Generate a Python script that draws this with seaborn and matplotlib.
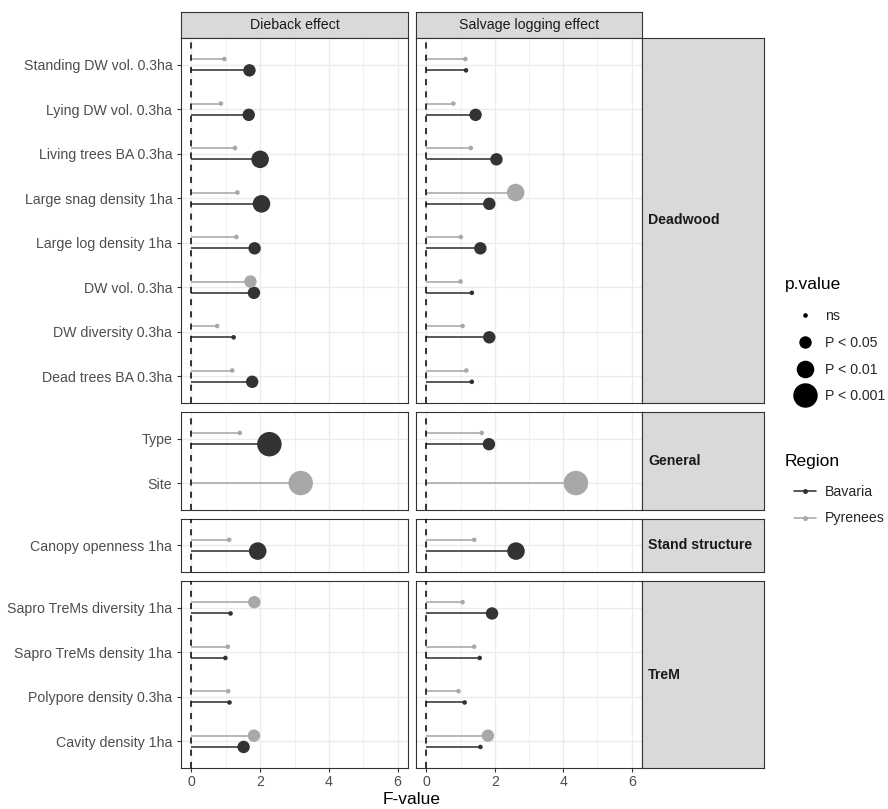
import numpy as np
import pandas as pd
import matplotlib
matplotlib.use("Agg")
import matplotlib.pyplot as plt
import seaborn as sns
from matplotlib.lines import Line2D

sns.set_theme(style="white")
plt.rcParams['font.family'] = ['Liberation Sans', 'DejaVu Sans']

# data (top to bottom)
variables = ["Standing DW vol. 0.3ha", "Lying DW vol. 0.3ha", "Living trees BA 0.3ha",
             "Large snag density 1ha", "Large log density 1ha", "DW vol. 0.3ha",
             "DW diversity 0.3ha", "Dead trees BA 0.3ha", "Type", "Site",
             "Canopy openness 1ha", "Sapro TreMs diversity 1ha", "Sapro TreMs density 1ha",
             "Polypore density 0.3ha", "Cavity density 1ha"]
groups = ["Deadwood"] * 8 + ["General"] * 2 + ["Stand structure"] + ["TreM"] * 4
group_order = ["Deadwood", "General", "Stand structure", "TreM"]
effects = ["Dieback effect", "Salvage logging effect"]

dieback_bavaria = [1.69, 1.67, 2.00, 2.04, 1.84, 1.82, 1.23, 1.77, 2.27, None, 1.93, 1.14, 0.99, 1.11, 1.52]
dieback_bavaria_p = ["P < 0.05", "P < 0.05", "P < 0.01", "P < 0.01", "P < 0.05", "P < 0.05", "ns",
                     "P < 0.05", "P < 0.001", None, "P < 0.01", "ns", "ns", "ns", "P < 0.05"]
dieback_pyrenees = [0.96, 0.86, 1.27, 1.34, 1.31, 1.72, 0.75, 1.19, 1.41, 3.18, 1.10, 1.83, 1.06, 1.07, 1.82]
dieback_pyrenees_p = ["ns", "ns", "ns", "ns", "ns", "P < 0.05", "ns", "ns", "ns", "P < 0.001",
                      "ns", "P < 0.05", "ns", "ns", "P < 0.05"]
salvage_bavaria = [1.16, 1.44, 2.05, 1.84, 1.58, 1.33, 1.84, 1.33, 1.83, None, 2.62, 1.92, 1.56, 1.12, 1.58]
salvage_bavaria_p = ["ns", "P < 0.05", "P < 0.05", "P < 0.05", "P < 0.05", "ns", "P < 0.05", "ns",
                     "P < 0.05", None, "P < 0.01", "P < 0.05", "ns", "ns", "ns"]
salvage_pyrenees = [1.14, 0.79, 1.30, 2.61, 1.01, 1.00, 1.06, 1.17, 1.62, 4.37, 1.40, 1.06, 1.40, 0.94, 1.80]
salvage_pyrenees_p = ["ns", "ns", "ns", "P < 0.01", "ns", "ns", "ns", "ns", "ns", "P < 0.001",
                      "ns", "ns", "ns", "ns", "P < 0.05"]

p_order = ["ns", "P < 0.05", "P < 0.01", "P < 0.001"]
region_order = ["Bavaria", "Pyrenees"]
palette = {"Bavaria": "#333333", "Pyrenees": "#A8A8A8"}
size_map = {"ns": 11, "P < 0.05": 80, "P < 0.01": 160, "P < 0.001": 310}

rows = []
series = [("Dieback effect", "Bavaria", dieback_bavaria, dieback_bavaria_p),
          ("Dieback effect", "Pyrenees", dieback_pyrenees, dieback_pyrenees_p),
          ("Salvage logging effect", "Bavaria", salvage_bavaria, salvage_bavaria_p),
          ("Salvage logging effect", "Pyrenees", salvage_pyrenees, salvage_pyrenees_p)]
for effect, region, vals, ps in series:
    for i, var in enumerate(variables):
        if vals[i] is None:
            continue
        rows.append(dict(effect=effect, region=region, group=groups[i], variable=var,
                         F=vals[i], p=ps[i]))
df = pd.DataFrame(rows)

# position inside each facet row + dodge
pos = {}
for g in group_order:
    vs = [v for v, gg in zip(variables, groups) if gg == g]
    for j, v in enumerate(vs):
        pos[v] = j
n_per = df.groupby(["effect", "variable"])["region"].transform("count")
offset = np.where(df["region"] == "Pyrenees", -0.127, 0.127)
df["y"] = df["variable"].map(pos) + np.where(n_per > 1, offset, 0.0)

W, H = 888, 809
fig = plt.figure(figsize=(W / 100, H / 100), dpi=100)


def box(x0, y0, x1, y1):
    return [x0 / W, 1 - y1 / H, (x1 - x0) / W, (y1 - y0) / H]


col_x = [(181, 408), (416, 642)]
strip_r = (642, 764)
top0, bottom1, gap = 38, 768, 9
units = {g: groups.count(g) + 0.2 for g in group_order}
per_unit = (bottom1 - top0 - gap * (len(group_order) - 1)) / sum(units.values())
row_y = {}
cur = top0
for g in group_order:
    h = units[g] * per_unit
    row_y[g] = (cur, cur + h)
    cur += h + gap

fs = 10.2
edge = "#333333"
for c, effect in enumerate(effects):
    x0, x1 = col_x[c]
    # top strip
    sax = fig.add_axes(box(x0, 12, x1, top0))
    sax.set_facecolor("#D9D9D9")
    sax.set_xticks([]); sax.set_yticks([])
    for s in sax.spines.values():
        s.set_color(edge); s.set_linewidth(0.8)
    sax.text(0.5, 0.5, effect, ha="center", va="center", fontsize=fs, color="#1A1A1A",
             transform=sax.transAxes)
    for r, g in enumerate(group_order):
        y0, y1 = row_y[g]
        ax = fig.add_axes(box(x0, y0, x1, y1))
        sub = df[(df["effect"] == effect) & (df["group"] == g)]
        n = groups.count(g)
        ax.hlines(sub["y"], 0, sub["F"], colors=sub["region"].map(palette), lw=1.15, zorder=2)
        sns.scatterplot(data=sub, x="F", y="y", hue="region", hue_order=region_order,
                        palette=palette, size="p", size_order=p_order, sizes=size_map,
                        legend=False, ax=ax, edgecolor="none", linewidth=0, zorder=3)
        ax.axvline(0, color="black", ls=(0, (4, 4)), lw=1.1, zorder=4)
        ax.set_xlim(-0.3, 6.3)
        ax.set_ylim(n - 1 + 0.6, -0.6)
        ax.set_xticks([0, 2, 4, 6])
        ax.set_xticks([1, 3, 5], minor=True)
        ax.set_yticks(range(n))
        ax.grid(which="major", color="#EBEBEB", lw=1.0)
        ax.grid(which="minor", axis="x", color="#EBEBEB", lw=0.5)
        ax.set_axisbelow(True)
        ax.set_xlabel(""); ax.set_ylabel("")
        for s in ax.spines.values():
            s.set_color(edge); s.set_linewidth(0.8)
        ax.tick_params(which="both", length=2.75, width=0.8, color=edge,
                       labelcolor="#4D4D4D", labelsize=fs, pad=3.5)
        ax.tick_params(which="minor", length=0)
        if c == 0:
            ax.set_yticklabels([v for v, gg in zip(variables, groups) if gg == g])
            ax.tick_params(axis="y", left=True)
        else:
            ax.tick_params(axis="y", left=False, labelleft=False)
        if r == len(group_order) - 1:
            ax.tick_params(axis="x", bottom=True, pad=2.5)
        else:
            ax.tick_params(axis="x", bottom=False, labelbottom=False)
        # right strip
        if c == 1:
            rax = fig.add_axes(box(strip_r[0], y0, strip_r[1], y1))
            rax.set_facecolor("#D9D9D9")
            rax.set_xticks([]); rax.set_yticks([])
            for s in rax.spines.values():
                s.set_color(edge); s.set_linewidth(0.8)
            rax.text(0.05, 0.5, g, ha="left", va="center", fontsize=fs, fontweight="bold",
                     color="#1A1A1A", transform=rax.transAxes)

fig.text(412 / W, 1 - 800 / H, "F-value", ha="center", va="center", fontsize=12.5, color="black")

# legends
fig.text(785 / W, 1 - 285 / H, "p.value", ha="left", va="center", fontsize=12.5, color="black")
p_handles = [Line2D([], [], ls="none", marker="o", color="black", markeredgewidth=0,
                    markersize=np.sqrt(size_map[k])) for k in p_order]
fig.legend(p_handles, p_order, loc="upper left", bbox_to_anchor=(793.5 / W, 1 - 309 / H),
           frameon=False, fontsize=fs, labelspacing=0.9, handlelength=1.6,
           handletextpad=0.6, borderpad=0, borderaxespad=0)

fig.text(785 / W, 1 - 461 / H, "Region", ha="left", va="center", fontsize=12.5, color="black")
r_handles = [Line2D([], [], color=palette[k], lw=1.15, marker="o", markersize=3.6,
                    markeredgewidth=0) for k in region_order]
fig.legend(r_handles, region_order, loc="upper left", bbox_to_anchor=(793.5 / W, 1 - 485 / H),
           frameon=False, fontsize=fs, labelspacing=0.88, handlelength=1.6,
           handletextpad=0.6, borderpad=0, borderaxespad=0)

fig.savefig("out.png", dpi=100)
